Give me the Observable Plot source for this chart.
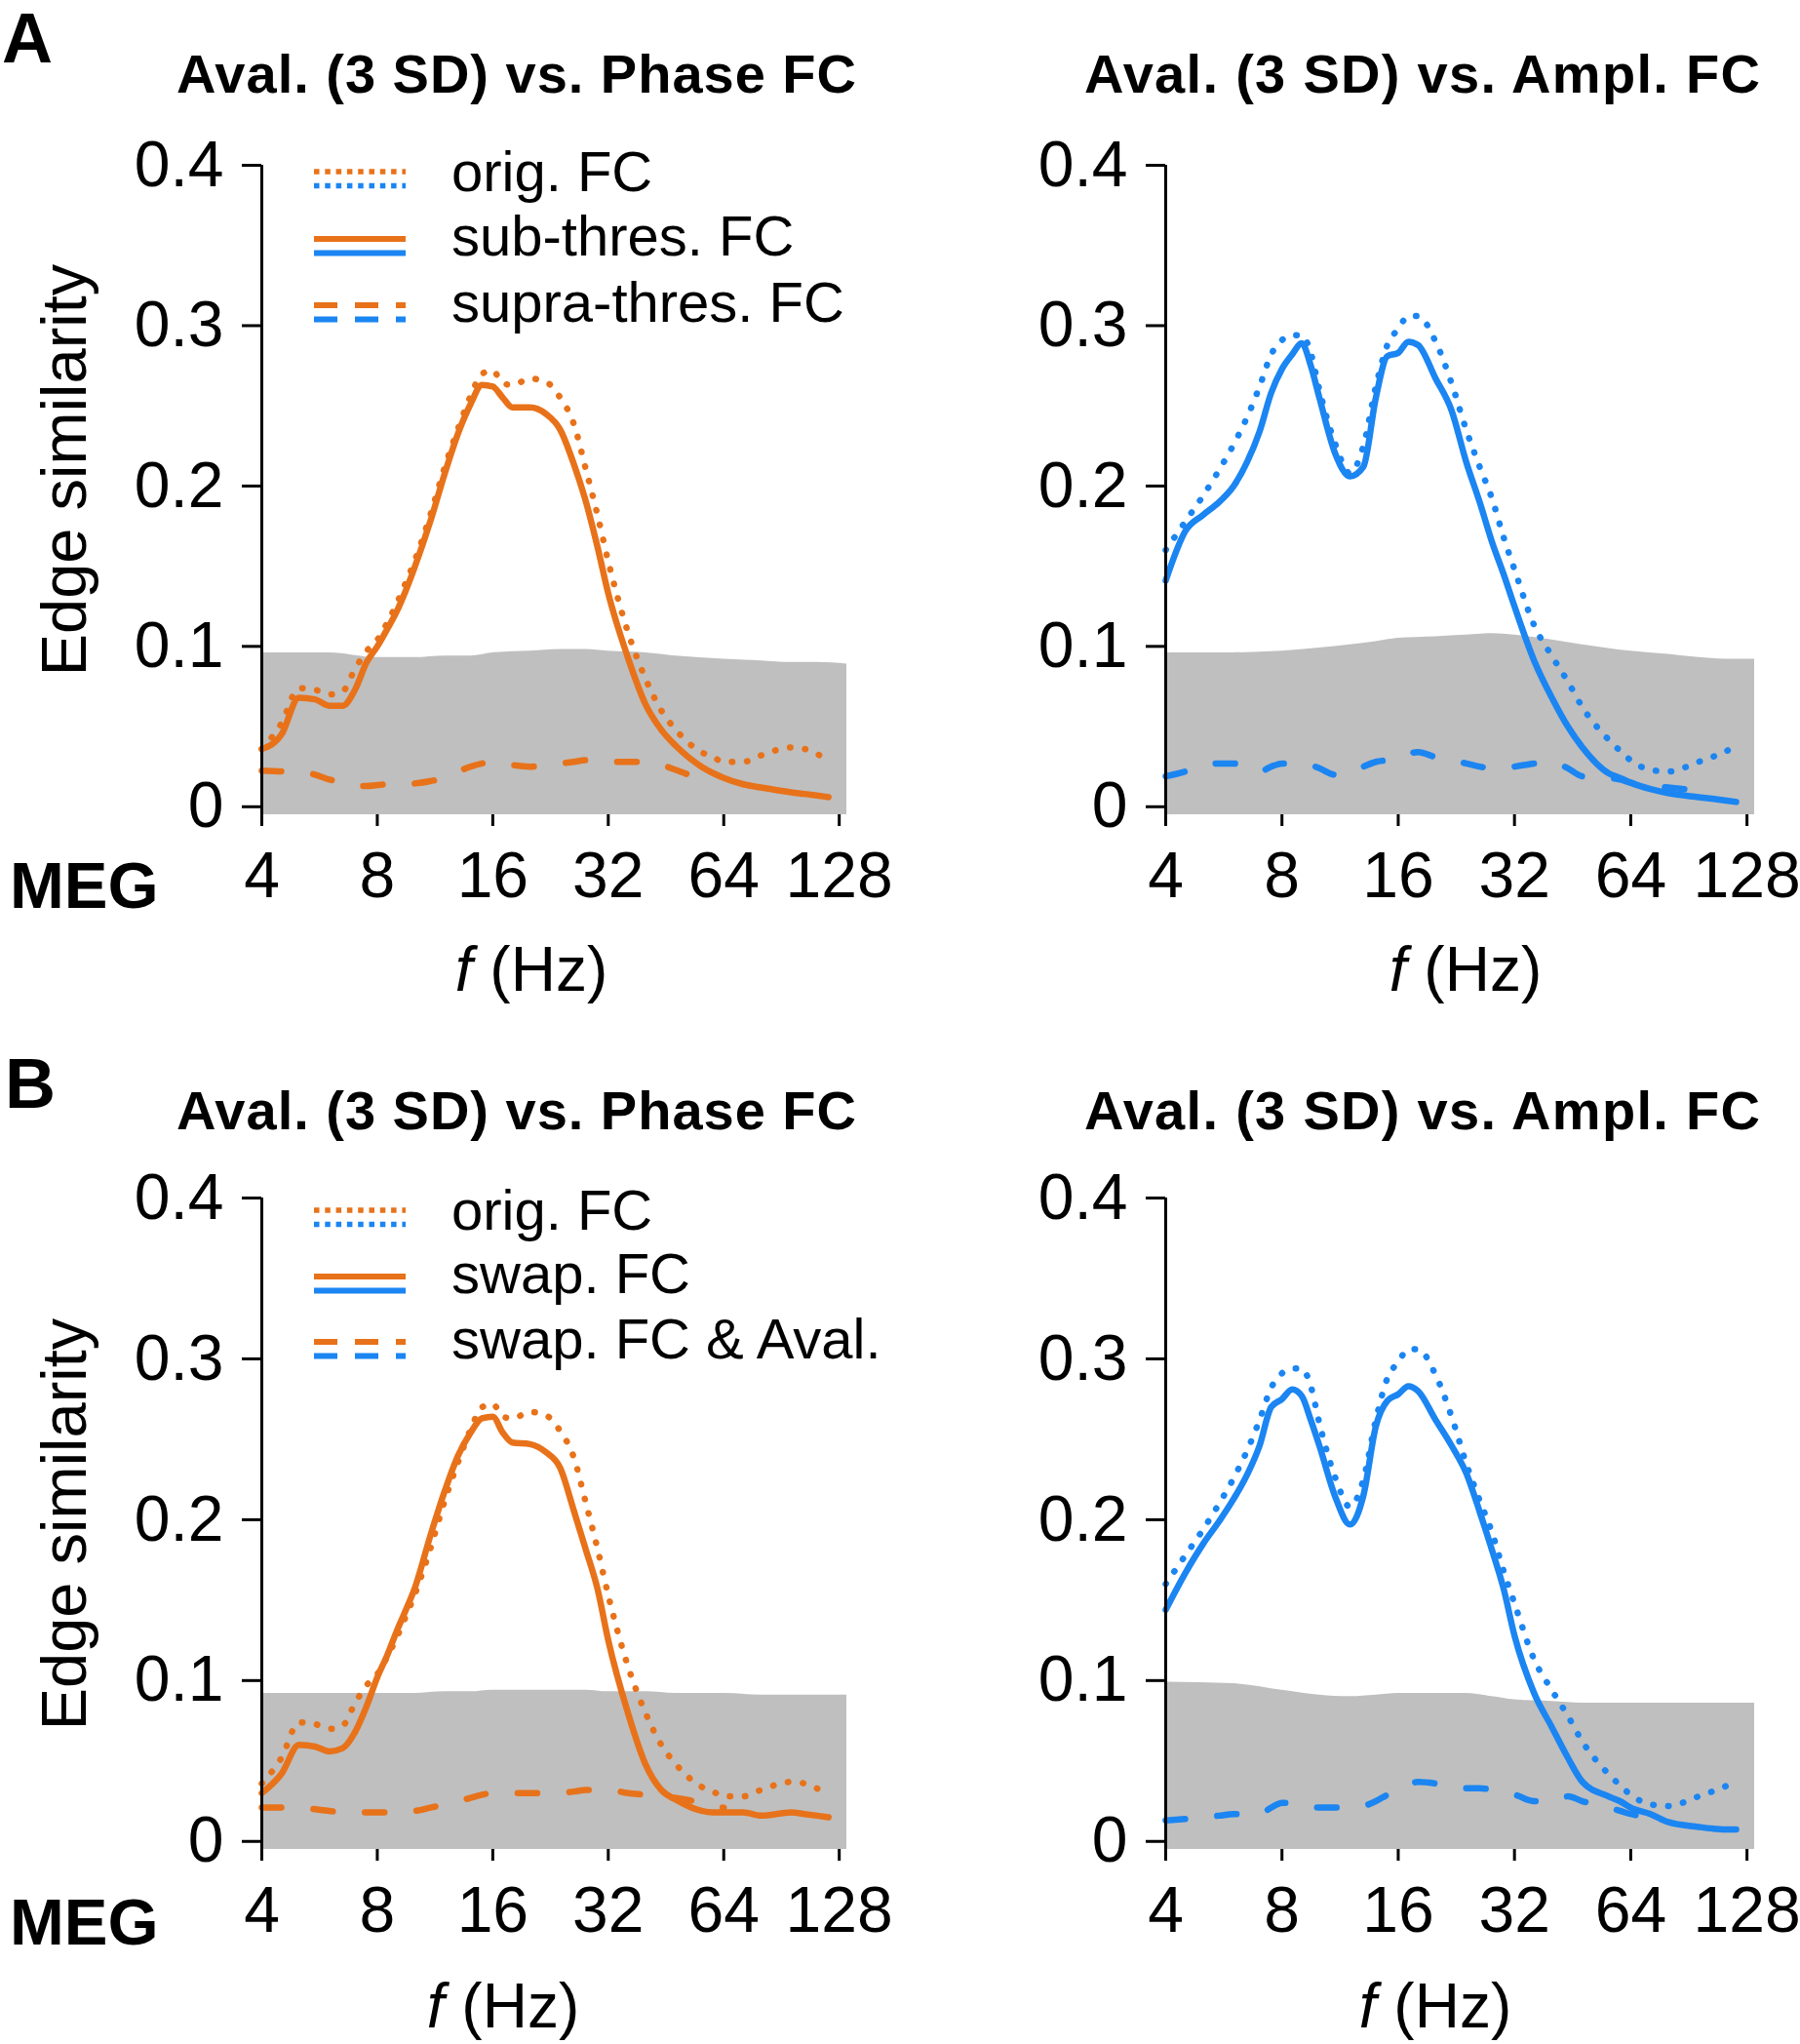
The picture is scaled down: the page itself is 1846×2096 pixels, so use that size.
<!DOCTYPE html>
<html>
<head>
<meta charset="utf-8">
<script src="https://cdn.jsdelivr.net/npm/d3@7"></script>
<script src="https://cdn.jsdelivr.net/npm/@observablehq/plot@0.6"></script>
<style>
  html, body { margin: 0; padding: 0; background: #fff; }
  #page { position: relative; width: 1846px; height: 2096px; overflow: hidden; background: #fff; }
  #page > svg { position: absolute; }
</style>
</head>
<body>
<div id="page"></div>
<script>
// ---------------- DATA ----------------
const FREQ = [4, 4.5, 5, 5.5, 6, 6.5, 7, 7.5, 8, 8.5, 9, 9.5, 10,
  11, 12, 13, 14, 15, 16, 17, 18, 20, 22, 24, 26, 28, 30, 32,
  36, 40, 44, 48, 56, 60, 64, 72, 80, 96, 104, 112, 120];
const GREY_FREQ = [4, 6, 8, 10, 12, 14, 16, 20, 24, 28, 32, 40, 48, 64, 80, 96, 112, 134];

// Phase FC (left column)
const phaseOrig = [.036, .052, .074, .073, .070, .072, .086, .097, .104, .115, .127, .140, .153,
  .182, .212, .236, .256, .270, .272, .264, .263, .267, .265, .255, .239, .210, .182, .153,
  .109, .080, .060, .048, .034, .031, .028, .028, .032, .037, .036, .033, .028];
const phaseSubThres = [.036, .045, .068, .067, .063, .063, .073, .090, .100, .111, .122, .135, .149,
  .178, .208, .233, .251, .263, .262, .255, .249, .249, .245, .235, .214, .190, .162, .133,
  .093, .064, .048, .038, .025, .021, .018, .014, .012, .009, .008, .007, .006];
const phaseSupraThres = [.0225, .022, .022, .020, .017, .015, .013, .013, .0135, .014, .014, .014, .0145,
  .016, .018, .022, .025, .027, .028, .027, .026, .025, .026, .027, .028, .029, .029, .028,
  .028, .028, .026, .023, .017, .015, null, null, null, null, null, null, null];
const phaseSwap = [.030, .042, .060, .059, .056, .058, .068, .084, .102, .116, .131, .144, .157,
  .190, .218, .240, .254, .263, .264, .254, .248, .247, .242, .232, .206, .181, .157, .125,
  .080, .048, .032, .026, .019, .018, .018, .018, .016, .018, .017, .016, .015];
const phaseSwapAval = [.021, .021, .021, .020, .019, .018, .018, .018, .018, .018, .018, .019, .019,
  .021, .023, .025, .027, .029, .030, .030, .030, .030, .030, .030, .031, .032, .032, .032,
  .030, .029, .028, .027, .024, .022, .021, null, null, null, null, null, null];

// Amplitude FC (right column)
const amplOrig = [.160, .178, .194, .210, .226, .243, .262, .282, .291, .294, .294, .283, .260,
  .226, .208, .225, .262, .288, .298, .306, .306, .290, .264, .235, .212, .192, .168, .148,
  .113, .094, .078, .062, .042, .035, .029, .023, .022, .028, .031, .034, .039];
const amplSubThres = [.141, .172, .182, .190, .200, .215, .234, .258, .273, .282, .289, .275, .255,
  .220, .206, .212, .255, .281, .283, .290, .288, .267, .247, .215, .190, .165, .145, .125,
  .091, .068, .050, .037, .021, .018, .015, .011, .0085, .006, .005, .004, .003];
const amplSupraThres = [.019, .022, .026, .027, .027, .024, .022, .025, .027, .027, .027, .026, .024,
  .020, .021, .025, .028, .029, .030, .033, .034, .031, .029, .027, .025, .024, .024, .025,
  .027, .028, .024, .019, .018, .017, .015, .013, .012, .010, .009, null, null];
const amplSwap = [.144, .167, .185, .199, .213, .228, .246, .270, .275, .281, .277, .262, .246,
  .214, .197, .215, .258, .274, .278, .283, .280, .262, .246, .229, .205, .181, .157, .128,
  .092, .071, .052, .037, .028, .025, .021, .017, .012, .009, .008, .0075, .0075];
const amplSwapAval = [.013, .014, .015, .016, .017, .017, .017, .021, .024, .024, .023, .022, .021,
  .021, .021, .022, .025, .029, .032, .035, .037, .036, .034, .033, .033, .032, .030, .029,
  .025, .025, .028, .025, .021, .019, .017, .015, null, null, null, null, null];

// Null (surrogate) band upper edges
const nullPhaseA = [.096, .096, .093, .093, .094, .094, .096, .097, .098, .098, .097, .096, .094, .092, .091, .090, .090, .089];
const nullAmplA  = [.096, .096, .097, .099, .101, .103, .105, .106, .107, .108, .107, .104, .101, .097, .095, .093, .092, .092];
const nullPhaseB = [.092, .092, .092, .092, .093, .093, .094, .094, .094, .094, .093, .093, .092, .092, .091, .091, .091, .091];
const nullAmplB  = [.099, .098, .094, .091, .090, .091, .092, .092, .092, .090, .088, .087, .086, .086, .086, .086, .086, .086];
const NULL_FLOOR = -0.005;

const X_TICKS = [4, 8, 16, 32, 64, 128];
const Y_TICKS = [0, 0.1, 0.2, 0.3, 0.4];
const X_DOMAIN = [4, 134];
const Y_DOMAIN = [-0.005, 0.4];

const TITLES = ["Aval. (3 SD) vs. Phase FC", "Aval. (3 SD) vs. Ampl. FC"];
const LEGEND_A = ["orig. FC", "sub-thres. FC", "supra-thres. FC"];
const LEGEND_B = ["orig. FC", "swap. FC", "swap. FC & Aval."];
const PANEL_LETTERS = ["A", "B"];
const MODALITY = "MEG";
const Y_LABEL = "Edge similarity";

const ORANGE = "#e8721a";
const BLUE = "#1b85f2";
const GREY = "#bfbfbf";
const FONT = "'Liberation Sans', Arial, Helvetica, sans-serif";

// ---------------- PANELS ----------------
const page = document.getElementById("page");

function makePanel(cfg) {
  const rows = FREQ.map((f, i) => ({f, orig: cfg.orig[i], main: cfg.main[i], alt: cfg.alt[i]}));
  const band = GREY_FREQ.map((f, i) => ({f, hi: cfg.band[i]}));
  const axisLine = [{x: X_DOMAIN[0], y1: Y_DOMAIN[1], y2: Y_DOMAIN[0]}];
  const chart = Plot.plot({
    width: 923, height: 1048,
    marginLeft: cfg.ml, marginRight: cfg.mr, marginTop: cfg.mt, marginBottom: cfg.mb,
    style: {fontFamily: FONT, color: "#000", background: "transparent", overflow: "visible"},
    x: {type: "log", base: 2, domain: X_DOMAIN},
    y: {domain: Y_DOMAIN},
    marks: [
      Plot.areaY(band, {x: "f", y1: () => NULL_FLOOR, y2: "hi", fill: GREY, curve: "monotone-x"}),
      Plot.line(rows, {x: "f", y: "alt", stroke: cfg.color, strokeWidth: 6.5,
        strokeDasharray: "20 33", strokeLinecap: "round", curve: "monotone-x"}),
      Plot.line(rows, {x: "f", y: "orig", stroke: cfg.color, strokeWidth: 6.5,
        strokeDasharray: "0.5 15", strokeLinecap: "round", curve: "monotone-x"}),
      Plot.line(rows, {x: "f", y: "main", stroke: cfg.color, strokeWidth: 6.5,
        strokeLinejoin: "round", curve: "monotone-x"}),
      Plot.ruleX(axisLine, {x: "x", y1: "y1", y2: "y2", stroke: "#000", strokeWidth: 3, insetBottom: -12}),
      Plot.axisY({ticks: Y_TICKS, tickFormat: d => d === 0 ? "0" : d.toFixed(1), tickSize: 20,
        tickPadding: 19, fontSize: 66, strokeWidth: 3, label: null}),
      Plot.axisX({ticks: X_TICKS, tickFormat: d => String(d), tickSize: 12, tickPadding: 26,
        fontSize: 66, strokeWidth: 3, label: null})
    ]
  });
  chart.style.left = cfg.left + "px";
  chart.style.top = cfg.top + "px";
  page.appendChild(chart);
}

makePanel({orig: phaseOrig, main: phaseSubThres, alt: phaseSupraThres, band: nullPhaseA, color: ORANGE,
  left: 0, top: 0, ml: 268, mr: 55, mt: 169, mb: 213});
makePanel({orig: amplOrig, main: amplSubThres, alt: amplSupraThres, band: nullAmplA, color: BLUE,
  left: 923, top: 0, ml: 272, mr: 47, mt: 169, mb: 213});
makePanel({orig: phaseOrig, main: phaseSwap, alt: phaseSwapAval, band: nullPhaseB, color: ORANGE,
  left: 0, top: 1048, ml: 268, mr: 55, mt: 180, mb: 200});
makePanel({orig: amplOrig, main: amplSwap, alt: amplSwapAval, band: nullAmplB, color: BLUE,
  left: 923, top: 1048, ml: 272, mr: 47, mt: 180, mb: 200});

// ---------------- ANNOTATIONS ----------------
const NS = "http://www.w3.org/2000/svg";
const ov = document.createElementNS(NS, "svg");
ov.setAttribute("width", 1846);
ov.setAttribute("height", 2096);
ov.style.left = "0px"; ov.style.top = "0px";
ov.style.fontFamily = FONT;
page.appendChild(ov);

function el(tag, attrs, parent = ov) {
  const e = document.createElementNS(NS, tag);
  for (const k in attrs) e.setAttribute(k, attrs[k]);
  parent.appendChild(e);
  return e;
}
function text(str, attrs) {
  const t = el("text", attrs);
  t.textContent = str;
  return t;
}

[0, 1].forEach(row => {
  const dy = row === 0 ? 0 : 1063;
  // panel letter
  text(PANEL_LETTERS[row], {x: row === 0 ? 2 : 5, y: row === 0 ? 64 : 1136, "font-size": 72, "font-weight": "bold"});
  // titles
  text(TITLES[0], {x: 181, y: 95 + dy, "font-size": 56, "font-weight": "bold",
    textLength: 697, lengthAdjust: "spacing"});
  text(TITLES[1], {x: 1112, y: 95 + dy, "font-size": 56, "font-weight": "bold",
    textLength: 693, lengthAdjust: "spacing"});
  // MEG
  text(MODALITY, {x: 10, y: row === 0 ? 931 : 1994, "font-size": 67, "font-weight": "bold"});
  // y label
  text(Y_LABEL, {transform: `translate(88,${row ? 1563 : 482}) rotate(-90)`, "text-anchor": "middle", "font-size": 65});
  // x labels
  const xl = row === 0 ? [545, 1503] : [516, 1472];
  xl.forEach(cx => {
    const t = el("text", {x: cx, y: row === 0 ? 1016 : 2079, "text-anchor": "middle", "font-size": 64});
    const a = el("tspan", {"font-style": "italic"}, t); a.textContent = "f";
    const b = el("tspan", {}, t); b.textContent = " (Hz)";
  });
  // legend
  const labels = row === 0 ? LEGEND_A : LEGEND_B;
  const ys = row === 0 ? [176, 245, 313] : [1241, 1309, 1376];
  const dashes = ["5.5 5.8", null, "24 18"];
  ys.forEach((y, k) => {
    [ORANGE, BLUE].forEach((c, j) => {
      const a = {x1: 322, x2: 416, y1: y + j * 14.5, y2: y + j * 14.5, stroke: c, "stroke-width": k === 0 ? 5.5 : 6};
      if (dashes[k]) a["stroke-dasharray"] = dashes[k];
      el("line", a);
    });
    text(labels[k], {x: 463, y: y + 17 + (k === 0 ? 3 : 0), "font-size": 58});
  });
});
</script>
</body>
</html>
